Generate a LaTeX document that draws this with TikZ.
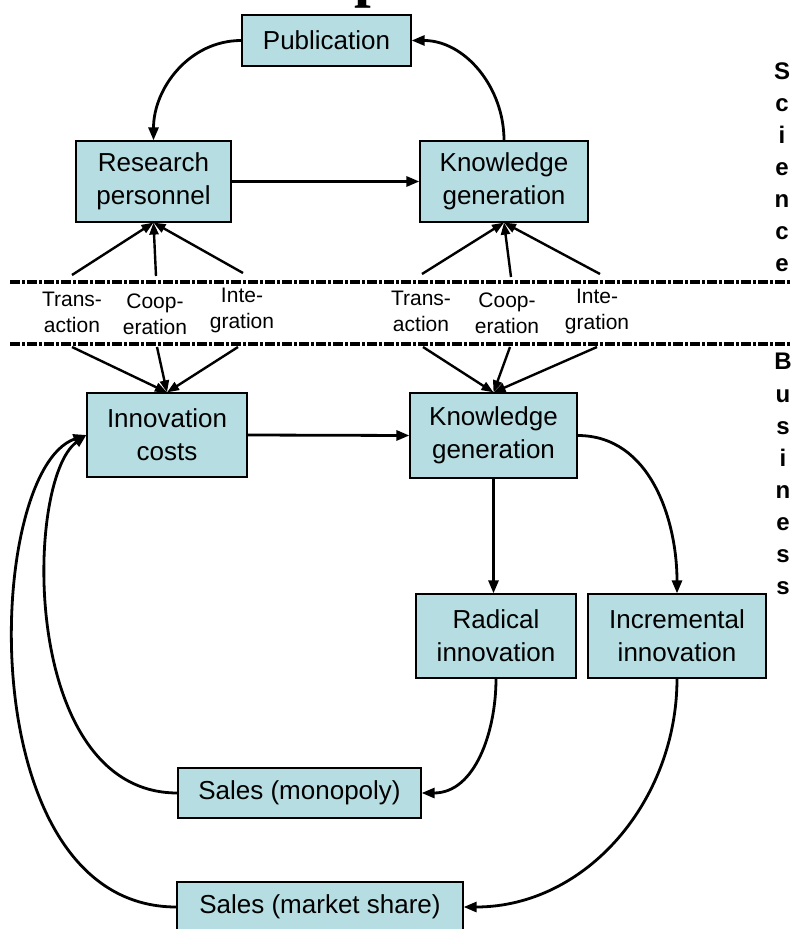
\documentclass[tikz,border=0pt]{standalone}
\usepackage{fontspec}
\setmainfont{Liberation Sans}
\newfontfamily\titlefont{Liberation Serif}
\usetikzlibrary{arrows.meta}
\definecolor{boxblue}{RGB}{182,221,225}

\begin{document}
\begin{tikzpicture}[x=0.5pt,y=-0.5pt,
    box/.style={draw=black,line width=0.6pt,fill=boxblue,align=center,inner sep=0pt,
      font=\fontsize{13}{16.5}\selectfont},
    tag/.style={align=center,inner sep=0pt,font=\fontsize{10.5}{13}\selectfont},
    flow/.style={line width=1.4pt,-{Triangle[length=6.5pt,width=5pt]}},
    feed/.style={line width=1.2pt,-{Triangle[length=6pt,width=4.5pt]}},
    border/.style={line width=2pt,dash pattern=on 5pt off 1pt on 1.5pt off 1pt},
    side/.style={anchor=base,inner sep=0pt,font=\bfseries\fontsize{12}{12}\selectfont}]

    \useasboundingbox (0,0) rectangle (791,929);
    \clip (0,0) rectangle (791,929);
    \fill[white] (0,0) rectangle (791,929);

    %cut-off title
    \node[anchor=base,inner sep=0pt,font=\titlefont\bfseries\fontsize{30}{30}\selectfont] (ttl) at (371,-4) {p};

    %science part
    \node[box,minimum width=84.5pt,minimum height=25.5pt] (pub) at (326.5,40.5) {Publication};
    \node[box,minimum width=77.5pt,minimum height=40.5pt] (res) at (153.5,181.5) {Research\\personnel};
    \node[box,minimum width=84pt,minimum height=40.5pt] (kg1) at (504,181.5) {Knowledge\\generation};

    %business part
    \node[box,minimum width=80pt,minimum height=42pt] (ino) at (167,435) {Innovation\\costs};
    \node[box,minimum width=83.5pt,minimum height=42.5pt] (kg2) at (493.5,435.5) {Knowledge\\generation};
    \node[box,minimum width=80pt,minimum height=42pt] (rad) at (496,636) {Radical\\innovation};
    \node[box,minimum width=89pt,minimum height=42pt] (inc) at (677,636) {Incremental\\innovation};
    \node[box,minimum width=121.5pt,minimum height=25pt] (mon) at (299.5,793) {Sales (monopoly)};
    \node[box,minimum width=143pt,minimum height=25pt] (msh) at (320,907) {Sales (market share)};

    %borders between the two parts
    \draw[border] (10,282) -- (791,282);
    \draw[border] (10,344) -- (791,344);

    %governance forms
    \node[tag] (tra1) at (72,312) {Trans-\\action};
    \node[tag] (coo1) at (155,314) {Coop-\\eration};
    \node[tag] (int1) at (242,310) {Inte-\\gration};
    \node[tag] (tra2) at (421,311) {Trans-\\action};
    \node[tag] (coo2) at (507,313) {Coop-\\eration};
    \node[tag] (int2) at (597,311) {Inte-\\gration};

    \coordinate (ut1) at (72,275);
    \coordinate (uc1) at (156,276);
    \coordinate (ui1) at (243,273);
    \coordinate (ut2) at (422,274);
    \coordinate (uc2) at (511,277);
    \coordinate (ui2) at (600,274);
    \coordinate (lt1) at (72,347);
    \coordinate (lc1) at (157,347);
    \coordinate (li1) at (238,347);
    \coordinate (lt2) at (423,347);
    \coordinate (lc2) at (510,347);
    \coordinate (li2) at (597,347);

    \foreach \p in {ut1,uc1,ui1} \draw[feed] (\p) -- (res.south);
    \foreach \p in {ut2,uc2,ui2} \draw[feed] (\p) -- (kg1.south);
    \foreach \p in {lt1,lc1,li1} \draw[feed] (\p) -- (ino.north);
    \foreach \p in {lt2,lc2,li2} \draw[feed] (\p) -- (kg2.north);

    %flows
    \draw[flow] (pub.west) to[out=180,in=90] (res.north);
    \draw[flow] (kg1.north) to[out=90,in=0] (pub.east);
    \draw[flow] (res.east) -- (kg1.west);
    \draw[flow] (ino.east) -- (kg2.west);
    \draw[flow] (kg2.south) -- (kg2.south |- rad.north);
    \draw[flow] (kg2.east) to[out=0,in=90] (inc.north);
    \draw[flow] (rad.south) to[out=-90,in=0] (mon.east);
    \draw[flow] (inc.south) to[out=-90,in=0] (msh.east);
    \draw[flow] (mon.west) .. controls +(-158,0) and +(-62,45) .. (ino.west);
    \draw[flow] (msh.west) .. controls +(-208,0) and +(-102,35) .. (ino.west);

    %side labels
    \foreach \ch [count=\i] in {S,c,i,e,n,c,e}
      \node[side] (sci\i) at (782,{80+32*(\i-1)}) {\ch};
    \foreach \ch [count=\i] in {B,u,s,i,n,e,s,s}
      \node[side] (bus\i) at (783,{370+32.1*(\i-1)}) {\ch};

  \end{tikzpicture}
\end{document}
